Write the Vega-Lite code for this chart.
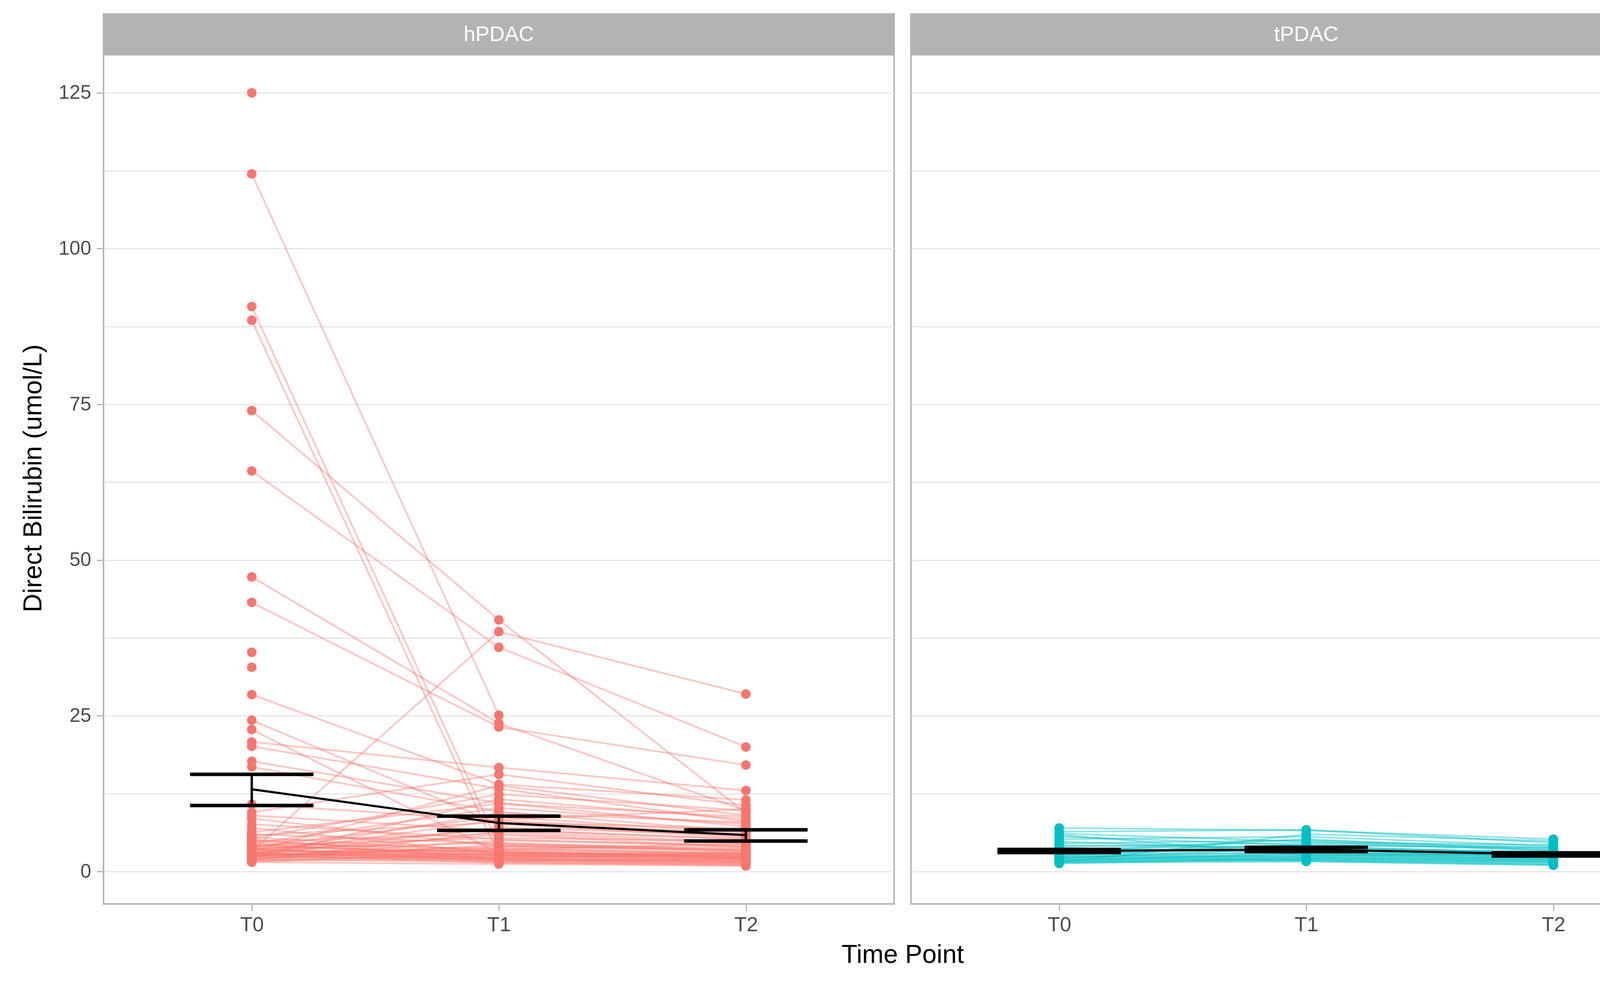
{
  "$schema": "https://vega.github.io/schema/vega-lite/v6.json",
  "padding": {"left": 52, "top": 34, "right": 0, "bottom": 0},
  "background": "white",
  "config": {
    "font": "Liberation Sans",
    "view": {"stroke": "#b3b3b3", "strokeWidth": 4},
    "facet": {"spacing": 39}
  },
  "data": {
    "values": [
      {"g": "hPDAC", "id": "h01", "t": "T0", "v": 125},
      {"g": "hPDAC", "id": "h02", "t": "T0", "v": 112}, {"g": "hPDAC", "id": "h02", "t": "T1", "v": 25.1},
      {"g": "hPDAC", "id": "h03", "t": "T0", "v": 90.7}, {"g": "hPDAC", "id": "h03", "t": "T1", "v": 4.2}, {"g": "hPDAC", "id": "h03", "t": "T2", "v": 3.5},
      {"g": "hPDAC", "id": "h04", "t": "T0", "v": 88.5}, {"g": "hPDAC", "id": "h04", "t": "T1", "v": 2.6}, {"g": "hPDAC", "id": "h04", "t": "T2", "v": 2.2},
      {"g": "hPDAC", "id": "h05", "t": "T0", "v": 74}, {"g": "hPDAC", "id": "h05", "t": "T1", "v": 40.4}, {"g": "hPDAC", "id": "h05", "t": "T2", "v": 9.4},
      {"g": "hPDAC", "id": "h06", "t": "T0", "v": 64.3}, {"g": "hPDAC", "id": "h06", "t": "T1", "v": 36.0}, {"g": "hPDAC", "id": "h06", "t": "T2", "v": 20.0},
      {"g": "hPDAC", "id": "h07", "t": "T0", "v": 47.3}, {"g": "hPDAC", "id": "h07", "t": "T1", "v": 23.8}, {"g": "hPDAC", "id": "h07", "t": "T2", "v": 9.8},
      {"g": "hPDAC", "id": "h08", "t": "T0", "v": 43.2}, {"g": "hPDAC", "id": "h08", "t": "T1", "v": 23.2}, {"g": "hPDAC", "id": "h08", "t": "T2", "v": 17.1},
      {"g": "hPDAC", "id": "h09", "t": "T0", "v": 35.2},
      {"g": "hPDAC", "id": "h10", "t": "T0", "v": 32.8},
      {"g": "hPDAC", "id": "h11", "t": "T0", "v": 28.4}, {"g": "hPDAC", "id": "h11", "t": "T1", "v": 14.0}, {"g": "hPDAC", "id": "h11", "t": "T2", "v": 11.5},
      {"g": "hPDAC", "id": "h12", "t": "T0", "v": 24.3}, {"g": "hPDAC", "id": "h12", "t": "T1", "v": 7.6}, {"g": "hPDAC", "id": "h12", "t": "T2", "v": 5.5},
      {"g": "hPDAC", "id": "h13", "t": "T0", "v": 22.8}, {"g": "hPDAC", "id": "h13", "t": "T1", "v": 3.0}, {"g": "hPDAC", "id": "h13", "t": "T2", "v": 2.4},
      {"g": "hPDAC", "id": "h14", "t": "T0", "v": 20.8}, {"g": "hPDAC", "id": "h14", "t": "T1", "v": 16.7}, {"g": "hPDAC", "id": "h14", "t": "T2", "v": 13.0},
      {"g": "hPDAC", "id": "h15", "t": "T0", "v": 20.1}, {"g": "hPDAC", "id": "h15", "t": "T1", "v": 13.3}, {"g": "hPDAC", "id": "h15", "t": "T2", "v": 8.0},
      {"g": "hPDAC", "id": "h16", "t": "T0", "v": 17.7}, {"g": "hPDAC", "id": "h16", "t": "T1", "v": 11.0}, {"g": "hPDAC", "id": "h16", "t": "T2", "v": 7.2},
      {"g": "hPDAC", "id": "h17", "t": "T0", "v": 16.8}, {"g": "hPDAC", "id": "h17", "t": "T1", "v": 9.6}, {"g": "hPDAC", "id": "h17", "t": "T2", "v": 6.4},
      {"g": "hPDAC", "id": "h18", "t": "T0", "v": 10.8}, {"g": "hPDAC", "id": "h18", "t": "T1", "v": 8.2}, {"g": "hPDAC", "id": "h18", "t": "T2", "v": 6.0},
      {"g": "hPDAC", "id": "h19", "t": "T0", "v": 9.5}, {"g": "hPDAC", "id": "h19", "t": "T1", "v": 15.6}, {"g": "hPDAC", "id": "h19", "t": "T2", "v": 10.6},
      {"g": "hPDAC", "id": "h20", "t": "T0", "v": 7.6}, {"g": "hPDAC", "id": "h20", "t": "T1", "v": 5.2}, {"g": "hPDAC", "id": "h20", "t": "T2", "v": 4.0},
      {"g": "hPDAC", "id": "h21", "t": "T0", "v": 6.3}, {"g": "hPDAC", "id": "h21", "t": "T1", "v": 10.9}, {"g": "hPDAC", "id": "h21", "t": "T2", "v": 8.8},
      {"g": "hPDAC", "id": "h22", "t": "T0", "v": 3.3}, {"g": "hPDAC", "id": "h22", "t": "T1", "v": 38.5}, {"g": "hPDAC", "id": "h22", "t": "T2", "v": 28.5},
      {"g": "hPDAC", "id": "h23", "t": "T0", "v": 6.0}, {"g": "hPDAC", "id": "h23", "t": "T1", "v": 4.5}, {"g": "hPDAC", "id": "h23", "t": "T2", "v": 3.8},
      {"g": "hPDAC", "id": "h24", "t": "T0", "v": 5.8}, {"g": "hPDAC", "id": "h24", "t": "T1", "v": 7.9}, {"g": "hPDAC", "id": "h24", "t": "T2", "v": 6.9},
      {"g": "hPDAC", "id": "h25", "t": "T0", "v": 5.5}, {"g": "hPDAC", "id": "h25", "t": "T1", "v": 3.2}, {"g": "hPDAC", "id": "h25", "t": "T2", "v": 2.6},
      {"g": "hPDAC", "id": "h26", "t": "T0", "v": 5.3}, {"g": "hPDAC", "id": "h26", "t": "T1", "v": 12.4}, {"g": "hPDAC", "id": "h26", "t": "T2", "v": 9.8},
      {"g": "hPDAC", "id": "h27", "t": "T0", "v": 5.0}, {"g": "hPDAC", "id": "h27", "t": "T1", "v": 2.8}, {"g": "hPDAC", "id": "h27", "t": "T2", "v": 2.1},
      {"g": "hPDAC", "id": "h28", "t": "T0", "v": 4.8}, {"g": "hPDAC", "id": "h28", "t": "T1", "v": 6.1}, {"g": "hPDAC", "id": "h28", "t": "T2", "v": 4.4},
      {"g": "hPDAC", "id": "h29", "t": "T0", "v": 4.6}, {"g": "hPDAC", "id": "h29", "t": "T1", "v": 3.6}, {"g": "hPDAC", "id": "h29", "t": "T2", "v": 3.0},
      {"g": "hPDAC", "id": "h30", "t": "T0", "v": 4.5}, {"g": "hPDAC", "id": "h30", "t": "T1", "v": 10.2}, {"g": "hPDAC", "id": "h30", "t": "T2", "v": 7.6},
      {"g": "hPDAC", "id": "h31", "t": "T0", "v": 4.3}, {"g": "hPDAC", "id": "h31", "t": "T1", "v": 2.4}, {"g": "hPDAC", "id": "h31", "t": "T2", "v": 1.9},
      {"g": "hPDAC", "id": "h32", "t": "T0", "v": 4.1}, {"g": "hPDAC", "id": "h32", "t": "T1", "v": 5.4}, {"g": "hPDAC", "id": "h32", "t": "T2", "v": 4.9},
      {"g": "hPDAC", "id": "h33", "t": "T0", "v": 4.0}, {"g": "hPDAC", "id": "h33", "t": "T1", "v": 3.1}, {"g": "hPDAC", "id": "h33", "t": "T2", "v": 2.7},
      {"g": "hPDAC", "id": "h34", "t": "T0", "v": 3.9}, {"g": "hPDAC", "id": "h34", "t": "T1", "v": 8.8}, {"g": "hPDAC", "id": "h34", "t": "T2", "v": 6.2},
      {"g": "hPDAC", "id": "h35", "t": "T0", "v": 3.8}, {"g": "hPDAC", "id": "h35", "t": "T1", "v": 2.2}, {"g": "hPDAC", "id": "h35", "t": "T2", "v": 1.6},
      {"g": "hPDAC", "id": "h36", "t": "T0", "v": 3.7}, {"g": "hPDAC", "id": "h36", "t": "T1", "v": 4.6}, {"g": "hPDAC", "id": "h36", "t": "T2", "v": 3.3},
      {"g": "hPDAC", "id": "h37", "t": "T0", "v": 3.6}, {"g": "hPDAC", "id": "h37", "t": "T1", "v": 1.9}, {"g": "hPDAC", "id": "h37", "t": "T2", "v": 1.5},
      {"g": "hPDAC", "id": "h38", "t": "T0", "v": 3.5}, {"g": "hPDAC", "id": "h38", "t": "T1", "v": 6.8}, {"g": "hPDAC", "id": "h38", "t": "T2", "v": 5.1},
      {"g": "hPDAC", "id": "h39", "t": "T0", "v": 3.4}, {"g": "hPDAC", "id": "h39", "t": "T1", "v": 2.7}, {"g": "hPDAC", "id": "h39", "t": "T2", "v": 2.3},
      {"g": "hPDAC", "id": "h40", "t": "T0", "v": 3.3}, {"g": "hPDAC", "id": "h40", "t": "T1", "v": 13.8}, {"g": "hPDAC", "id": "h40", "t": "T2", "v": 9.0},
      {"g": "hPDAC", "id": "h41", "t": "T0", "v": 3.2}, {"g": "hPDAC", "id": "h41", "t": "T1", "v": 3.4}, {"g": "hPDAC", "id": "h41", "t": "T2", "v": 2.9},
      {"g": "hPDAC", "id": "h42", "t": "T0", "v": 3.1}, {"g": "hPDAC", "id": "h42", "t": "T1", "v": 1.6}, {"g": "hPDAC", "id": "h42", "t": "T2", "v": 1.3},
      {"g": "hPDAC", "id": "h43", "t": "T0", "v": 3.0}, {"g": "hPDAC", "id": "h43", "t": "T1", "v": 5.9}, {"g": "hPDAC", "id": "h43", "t": "T2", "v": 3.9},
      {"g": "hPDAC", "id": "h44", "t": "T0", "v": 2.9}, {"g": "hPDAC", "id": "h44", "t": "T1", "v": 2.5}, {"g": "hPDAC", "id": "h44", "t": "T2", "v": 2.0},
      {"g": "hPDAC", "id": "h45", "t": "T0", "v": 2.9}, {"g": "hPDAC", "id": "h45", "t": "T1", "v": 9.4}, {"g": "hPDAC", "id": "h45", "t": "T2", "v": 7.9},
      {"g": "hPDAC", "id": "h46", "t": "T0", "v": 2.8}, {"g": "hPDAC", "id": "h46", "t": "T1", "v": 2.0}, {"g": "hPDAC", "id": "h46", "t": "T2", "v": 1.7},
      {"g": "hPDAC", "id": "h47", "t": "T0", "v": 2.7}, {"g": "hPDAC", "id": "h47", "t": "T1", "v": 4.0}, {"g": "hPDAC", "id": "h47", "t": "T2", "v": 3.4},
      {"g": "hPDAC", "id": "h48", "t": "T0", "v": 2.7}, {"g": "hPDAC", "id": "h48", "t": "T1", "v": 1.4}, {"g": "hPDAC", "id": "h48", "t": "T2", "v": 1.1},
      {"g": "hPDAC", "id": "h49", "t": "T0", "v": 2.6}, {"g": "hPDAC", "id": "h49", "t": "T1", "v": 7.1}, {"g": "hPDAC", "id": "h49", "t": "T2", "v": 5.8},
      {"g": "hPDAC", "id": "h50", "t": "T0", "v": 2.5}, {"g": "hPDAC", "id": "h50", "t": "T1", "v": 2.9}, {"g": "hPDAC", "id": "h50", "t": "T2", "v": 2.5},
      {"g": "hPDAC", "id": "h51", "t": "T0", "v": 2.5}, {"g": "hPDAC", "id": "h51", "t": "T1", "v": 3.8}, {"g": "hPDAC", "id": "h51", "t": "T2", "v": 2.8},
      {"g": "hPDAC", "id": "h52", "t": "T0", "v": 2.4}, {"g": "hPDAC", "id": "h52", "t": "T1", "v": 1.8}, {"g": "hPDAC", "id": "h52", "t": "T2", "v": 1.4},
      {"g": "hPDAC", "id": "h53", "t": "T0", "v": 2.3}, {"g": "hPDAC", "id": "h53", "t": "T1", "v": 5.0}, {"g": "hPDAC", "id": "h53", "t": "T2", "v": 4.2},
      {"g": "hPDAC", "id": "h54", "t": "T0", "v": 2.3}, {"g": "hPDAC", "id": "h54", "t": "T1", "v": 2.3}, {"g": "hPDAC", "id": "h54", "t": "T2", "v": 1.8},
      {"g": "hPDAC", "id": "h55", "t": "T0", "v": 2.2}, {"g": "hPDAC", "id": "h55", "t": "T1", "v": 11.6}, {"g": "hPDAC", "id": "h55", "t": "T2", "v": 8.4},
      {"g": "hPDAC", "id": "h56", "t": "T0", "v": 2.1}, {"g": "hPDAC", "id": "h56", "t": "T1", "v": 3.3}, {"g": "hPDAC", "id": "h56", "t": "T2", "v": 2.2},
      {"g": "hPDAC", "id": "h57", "t": "T0", "v": 2.0}, {"g": "hPDAC", "id": "h57", "t": "T1", "v": 1.5}, {"g": "hPDAC", "id": "h57", "t": "T2", "v": 1.0},
      {"g": "hPDAC", "id": "h58", "t": "T0", "v": 2.0}, {"g": "hPDAC", "id": "h58", "t": "T1", "v": 4.3}, {"g": "hPDAC", "id": "h58", "t": "T2", "v": 3.6},
      {"g": "hPDAC", "id": "h59", "t": "T0", "v": 1.9}, {"g": "hPDAC", "id": "h59", "t": "T1", "v": 2.6}, {"g": "hPDAC", "id": "h59", "t": "T2", "v": 2.1},
      {"g": "hPDAC", "id": "h60", "t": "T0", "v": 1.8}, {"g": "hPDAC", "id": "h60", "t": "T1", "v": 6.4}, {"g": "hPDAC", "id": "h60", "t": "T2", "v": 4.7},
      {"g": "hPDAC", "id": "h61", "t": "T0", "v": 1.7}, {"g": "hPDAC", "id": "h61", "t": "T1", "v": 2.1}, {"g": "hPDAC", "id": "h61", "t": "T2", "v": 1.6},
      {"g": "hPDAC", "id": "h62", "t": "T0", "v": 1.6}, {"g": "hPDAC", "id": "h62", "t": "T1", "v": 3.0}, {"g": "hPDAC", "id": "h62", "t": "T2", "v": 2.4},
      {"g": "hPDAC", "id": "h63", "t": "T0", "v": 1.5}, {"g": "hPDAC", "id": "h63", "t": "T1", "v": 1.2}, {"g": "hPDAC", "id": "h63", "t": "T2", "v": 0.9},
      {"g": "hPDAC", "id": "h64", "t": "T0", "v": 4.4}, {"g": "hPDAC", "id": "h64", "t": "T1", "v": 2.6}, {"g": "hPDAC", "id": "h64", "t": "T2", "v": 3.1},
      {"g": "hPDAC", "id": "h65", "t": "T0", "v": 3.6}, {"g": "hPDAC", "id": "h65", "t": "T1", "v": 1.7}, {"g": "hPDAC", "id": "h65", "t": "T2", "v": 2.0},
      {"g": "hPDAC", "id": "h66", "t": "T0", "v": 2.6}, {"g": "hPDAC", "id": "h66", "t": "T1", "v": 3.5}, {"g": "hPDAC", "id": "h66", "t": "T2", "v": 4.5},
      {"g": "hPDAC", "id": "h67", "t": "T0", "v": 8.5}, {"g": "hPDAC", "id": "h67", "t": "T1", "v": 4.1}, {"g": "hPDAC", "id": "h67", "t": "T2", "v": 3.2},
      {"g": "hPDAC", "id": "h68", "t": "T0", "v": 7.0}, {"g": "hPDAC", "id": "h68", "t": "T1", "v": 2.9}, {"g": "hPDAC", "id": "h68", "t": "T2", "v": 2.6},
      {"g": "hPDAC", "id": "h69", "t": "T0", "v": 9.0}, {"g": "hPDAC", "id": "h69", "t": "T1", "v": 6.6}, {"g": "hPDAC", "id": "h69", "t": "T2", "v": 5.3},
      {"g": "hPDAC", "id": "h70", "t": "T0", "v": 2.8}, {"g": "hPDAC", "id": "h70", "t": "T1", "v": 8.3}, {"g": "hPDAC", "id": "h70", "t": "T2", "v": 10.0},
      {"g": "hPDAC", "id": "h71", "t": "T0", "v": 5.2}, {"g": "hPDAC", "id": "h71", "t": "T1", "v": 1.9}, {"g": "hPDAC", "id": "h71", "t": "T2", "v": 1.2},
      {"g": "hPDAC", "id": "h72", "t": "T0", "v": 3.0}, {"g": "hPDAC", "id": "h72", "t": "T1", "v": 2.2}, {"g": "hPDAC", "id": "h72", "t": "T2", "v": 2.9},

      {"g": "tPDAC", "id": "t01", "t": "T0", "v": 7.0}, {"g": "tPDAC", "id": "t01", "t": "T1", "v": 6.6}, {"g": "tPDAC", "id": "t01", "t": "T2", "v": 5.2},
      {"g": "tPDAC", "id": "t02", "t": "T0", "v": 6.4}, {"g": "tPDAC", "id": "t02", "t": "T1", "v": 6.7}, {"g": "tPDAC", "id": "t02", "t": "T2", "v": 4.6},
      {"g": "tPDAC", "id": "t03", "t": "T0", "v": 5.6}, {"g": "tPDAC", "id": "t03", "t": "T1", "v": 4.2}, {"g": "tPDAC", "id": "t03", "t": "T2", "v": 3.9},
      {"g": "tPDAC", "id": "t04", "t": "T0", "v": 5.2}, {"g": "tPDAC", "id": "t04", "t": "T1", "v": 5.6}, {"g": "tPDAC", "id": "t04", "t": "T2", "v": 4.1},
      {"g": "tPDAC", "id": "t05", "t": "T0", "v": 4.8}, {"g": "tPDAC", "id": "t05", "t": "T1", "v": 3.5}, {"g": "tPDAC", "id": "t05", "t": "T2", "v": 3.2},
      {"g": "tPDAC", "id": "t06", "t": "T0", "v": 4.5}, {"g": "tPDAC", "id": "t06", "t": "T1", "v": 5.0}, {"g": "tPDAC", "id": "t06", "t": "T2", "v": 3.8},
      {"g": "tPDAC", "id": "t07", "t": "T0", "v": 4.2}, {"g": "tPDAC", "id": "t07", "t": "T1", "v": 3.9}, {"g": "tPDAC", "id": "t07", "t": "T2", "v": 3.0},
      {"g": "tPDAC", "id": "t08", "t": "T0", "v": 4.0}, {"g": "tPDAC", "id": "t08", "t": "T1", "v": 4.6}, {"g": "tPDAC", "id": "t08", "t": "T2", "v": 4.3},
      {"g": "tPDAC", "id": "t09", "t": "T0", "v": 3.8}, {"g": "tPDAC", "id": "t09", "t": "T1", "v": 3.0}, {"g": "tPDAC", "id": "t09", "t": "T2", "v": 2.6},
      {"g": "tPDAC", "id": "t10", "t": "T0", "v": 3.6}, {"g": "tPDAC", "id": "t10", "t": "T1", "v": 4.1}, {"g": "tPDAC", "id": "t10", "t": "T2", "v": 2.9},
      {"g": "tPDAC", "id": "t11", "t": "T0", "v": 3.4}, {"g": "tPDAC", "id": "t11", "t": "T1", "v": 3.3}, {"g": "tPDAC", "id": "t11", "t": "T2", "v": 2.4},
      {"g": "tPDAC", "id": "t12", "t": "T0", "v": 3.2}, {"g": "tPDAC", "id": "t12", "t": "T1", "v": 5.2}, {"g": "tPDAC", "id": "t12", "t": "T2", "v": 3.4},
      {"g": "tPDAC", "id": "t13", "t": "T0", "v": 3.0}, {"g": "tPDAC", "id": "t13", "t": "T1", "v": 2.8}, {"g": "tPDAC", "id": "t13", "t": "T2", "v": 2.2},
      {"g": "tPDAC", "id": "t14", "t": "T0", "v": 2.9}, {"g": "tPDAC", "id": "t14", "t": "T1", "v": 3.6}, {"g": "tPDAC", "id": "t14", "t": "T2", "v": 2.7},
      {"g": "tPDAC", "id": "t15", "t": "T0", "v": 2.7}, {"g": "tPDAC", "id": "t15", "t": "T1", "v": 2.4}, {"g": "tPDAC", "id": "t15", "t": "T2", "v": 1.9},
      {"g": "tPDAC", "id": "t16", "t": "T0", "v": 2.6}, {"g": "tPDAC", "id": "t16", "t": "T1", "v": 4.4}, {"g": "tPDAC", "id": "t16", "t": "T2", "v": 3.6},
      {"g": "tPDAC", "id": "t17", "t": "T0", "v": 2.5}, {"g": "tPDAC", "id": "t17", "t": "T1", "v": 2.2}, {"g": "tPDAC", "id": "t17", "t": "T2", "v": 1.7},
      {"g": "tPDAC", "id": "t18", "t": "T0", "v": 2.4}, {"g": "tPDAC", "id": "t18", "t": "T1", "v": 3.1}, {"g": "tPDAC", "id": "t18", "t": "T2", "v": 2.5},
      {"g": "tPDAC", "id": "t19", "t": "T0", "v": 2.3}, {"g": "tPDAC", "id": "t19", "t": "T1", "v": 1.9}, {"g": "tPDAC", "id": "t19", "t": "T2", "v": 1.5},
      {"g": "tPDAC", "id": "t20", "t": "T0", "v": 2.2}, {"g": "tPDAC", "id": "t20", "t": "T1", "v": 2.7}, {"g": "tPDAC", "id": "t20", "t": "T2", "v": 2.0},
      {"g": "tPDAC", "id": "t21", "t": "T0", "v": 2.1}, {"g": "tPDAC", "id": "t21", "t": "T1", "v": 3.8}, {"g": "tPDAC", "id": "t21", "t": "T2", "v": 3.1},
      {"g": "tPDAC", "id": "t22", "t": "T0", "v": 2.0}, {"g": "tPDAC", "id": "t22", "t": "T1", "v": 2.0}, {"g": "tPDAC", "id": "t22", "t": "T2", "v": 1.4},
      {"g": "tPDAC", "id": "t23", "t": "T0", "v": 1.9}, {"g": "tPDAC", "id": "t23", "t": "T1", "v": 2.5}, {"g": "tPDAC", "id": "t23", "t": "T2", "v": 2.1},
      {"g": "tPDAC", "id": "t24", "t": "T0", "v": 1.8}, {"g": "tPDAC", "id": "t24", "t": "T1", "v": 1.7}, {"g": "tPDAC", "id": "t24", "t": "T2", "v": 1.2},
      {"g": "tPDAC", "id": "t25", "t": "T0", "v": 1.7}, {"g": "tPDAC", "id": "t25", "t": "T1", "v": 2.9}, {"g": "tPDAC", "id": "t25", "t": "T2", "v": 2.3},
      {"g": "tPDAC", "id": "t26", "t": "T0", "v": 1.6}, {"g": "tPDAC", "id": "t26", "t": "T1", "v": 1.8}, {"g": "tPDAC", "id": "t26", "t": "T2", "v": 1.1},
      {"g": "tPDAC", "id": "t27", "t": "T0", "v": 1.5}, {"g": "tPDAC", "id": "t27", "t": "T1", "v": 2.3}, {"g": "tPDAC", "id": "t27", "t": "T2", "v": 1.8},
      {"g": "tPDAC", "id": "t28", "t": "T0", "v": 1.4}, {"g": "tPDAC", "id": "t28", "t": "T1", "v": 1.6}, {"g": "tPDAC", "id": "t28", "t": "T2", "v": 1.0},
      {"g": "tPDAC", "id": "t29", "t": "T0", "v": 1.3}, {"g": "tPDAC", "id": "t29", "t": "T1", "v": 2.1}, {"g": "tPDAC", "id": "t29", "t": "T2", "v": 1.6},
      {"g": "tPDAC", "id": "t30", "t": "T0", "v": 6.1}, {"g": "tPDAC", "id": "t30", "t": "T1", "v": 4.8}, {"g": "tPDAC", "id": "t30", "t": "T2", "v": 3.3},
      {"g": "tPDAC", "id": "t31", "t": "T0", "v": 5.9}, {"g": "tPDAC", "id": "t31", "t": "T1", "v": 2.6}, {"g": "tPDAC", "id": "t31", "t": "T2", "v": 2.8},
      {"g": "tPDAC", "id": "t32", "t": "T0", "v": 1.5}, {"g": "tPDAC", "id": "t32", "t": "T1", "v": 6.0}, {"g": "tPDAC", "id": "t32", "t": "T2", "v": 4.9},

      {"g": "hPDAC", "t": "T0", "mean": 13.2, "lo": 10.6, "hi": 15.6},
      {"g": "hPDAC", "t": "T1", "mean": 7.8, "lo": 6.6, "hi": 8.9},
      {"g": "hPDAC", "t": "T2", "mean": 5.85, "lo": 4.9, "hi": 6.7},
      {"g": "tPDAC", "t": "T0", "mean": 3.3, "lo": 3.05, "hi": 3.55},
      {"g": "tPDAC", "t": "T1", "mean": 3.55, "lo": 3.2, "hi": 3.9},
      {"g": "tPDAC", "t": "T2", "mean": 2.75, "lo": 2.5, "hi": 3.0}
    ]
  },
  "facet": {
    "column": {
      "field": "g",
      "type": "nominal",
      "title": "Time Point",
      "header": {
        "labels": false,
        "titleOrient": "bottom",
        "titleFont": "Liberation Sans",
        "titleFontSize": 66,
        "titleFontWeight": "normal",
        "titleColor": "black",
        "titlePadding": 10
      }
    }
  },
  "spacing": 39,
  "spec": {
    "width": 2024,
    "height": 2278,
    "encoding": {
      "x": {
        "field": "t",
        "type": "ordinal",
        "title": null,
        "scale": {"type": "point", "domain": ["T0", "T1", "T2"], "padding": 0.6},
        "axis": {
          "labelAngle": 0,
          "labelFontSize": 52,
          "labelColor": "#4d4d4d",
          "labelPadding": 10,
          "tickColor": "#b3b3b3",
          "tickWidth": 3,
          "tickSize": 16,
          "domain": false,
          "gridColor": "#e6e6e6",
          "gridWidth": 2.5
        }
      }
    },
    "layer": [
      {
        "transform": [{"filter": "isValid(datum.v)"}],
        "mark": {"type": "line", "strokeWidth": 4.5, "opacity": 0.42},
        "encoding": {
          "y": {
            "field": "v",
            "type": "quantitative",
            "title": "Direct Bilirubin (umol/L)",
            "scale": {"domain": [-5.2, 137.65], "nice": false, "zero": false},
            "axis": {
              "values": [0, 12.5, 25, 37.5, 50, 62.5, 75, 87.5, 100, 112.5, 125],
              "labelExpr": "datum.value % 25 === 0 ? datum.label : ''",
              "tickOpacity": {"condition": {"test": "datum.value % 25 !== 0", "value": 0}, "value": 1},
              "gridColor": "#e6e6e6",
              "gridWidth": 3,
              "tickColor": "#b3b3b3",
              "tickWidth": 3,
              "tickSize": 16,
              "domain": false,
              "labelFontSize": 50,
              "labelColor": "#4d4d4d",
              "labelPadding": 14,
              "titleFontSize": 66,
              "titleFontWeight": "normal",
              "titleColor": "black",
              "titlePadding": 30,
              "titleY": 1188
            }
          },
          "color": {
            "field": "g",
            "type": "nominal",
            "scale": {"domain": ["hPDAC", "tPDAC"], "range": ["#F8766D", "#00BFC4"]},
            "legend": null
          },
          "detail": {"field": "id"}
        }
      },
      {
        "transform": [{"filter": "isValid(datum.v)"}],
        "mark": {"type": "circle", "size": 600, "opacity": 1},
        "encoding": {
          "y": {"field": "v", "type": "quantitative", "title": "Direct Bilirubin (umol/L)", "scale": {"domain": [-5.2, 137.65], "nice": false, "zero": false}},
          "color": {
            "field": "g",
            "type": "nominal",
            "scale": {"domain": ["hPDAC", "tPDAC"], "range": ["#F8766D", "#00BFC4"]},
            "legend": null
          }
        }
      },
      {
        "transform": [{"filter": "isValid(datum.mean)"}],
        "mark": {"type": "line", "color": "black", "strokeWidth": 5.5},
        "encoding": {
          "y": {"field": "mean", "type": "quantitative", "title": "Direct Bilirubin (umol/L)", "scale": {"domain": [-5.2, 137.65], "nice": false, "zero": false}}
        }
      },
      {
        "transform": [{"filter": "isValid(datum.mean)"}],
        "mark": {"type": "rule", "color": "black", "strokeWidth": 6},
        "encoding": {
          "y": {"field": "lo", "type": "quantitative", "title": "Direct Bilirubin (umol/L)", "scale": {"domain": [-5.2, 137.65], "nice": false, "zero": false}},
          "y2": {"field": "hi"}
        }
      },
      {
        "transform": [{"filter": "isValid(datum.mean)"}],
        "mark": {"type": "tick", "color": "black", "size": 316, "thickness": 9, "opacity": 1},
        "encoding": {
          "y": {"field": "lo", "type": "quantitative", "title": "Direct Bilirubin (umol/L)", "scale": {"domain": [-5.2, 137.65], "nice": false, "zero": false}}
        }
      },
      {
        "transform": [{"filter": "isValid(datum.mean)"}],
        "mark": {"type": "tick", "color": "black", "size": 316, "thickness": 9, "opacity": 1},
        "encoding": {
          "y": {"field": "hi", "type": "quantitative", "title": "Direct Bilirubin (umol/L)", "scale": {"domain": [-5.2, 137.65], "nice": false, "zero": false}}
        }
      },
      {
        "transform": [{"aggregate": [{"op": "count", "as": "n"}], "groupby": ["g"]}],
        "mark": {"type": "rect", "color": "#b3b3b3"},
        "encoding": {
          "x": null,
          "y": {"datum": 131.0, "type": "quantitative", "title": "Direct Bilirubin (umol/L)", "scale": {"domain": [-5.2, 137.65], "nice": false, "zero": false}},
          "y2": {"datum": 137.65}
        }
      },
      {
        "transform": [{"aggregate": [{"op": "count", "as": "n"}], "groupby": ["g"]}],
        "mark": {"type": "text", "color": "white", "fontSize": 54, "font": "Liberation Sans", "baseline": "middle", "align": "center"},
        "encoding": {
          "x": null,
          "y": {"datum": 134.3, "type": "quantitative", "title": "Direct Bilirubin (umol/L)", "scale": {"domain": [-5.2, 137.65], "nice": false, "zero": false}},
          "text": {"field": "g", "type": "nominal"}
        }
      }
    ]
  }
}
